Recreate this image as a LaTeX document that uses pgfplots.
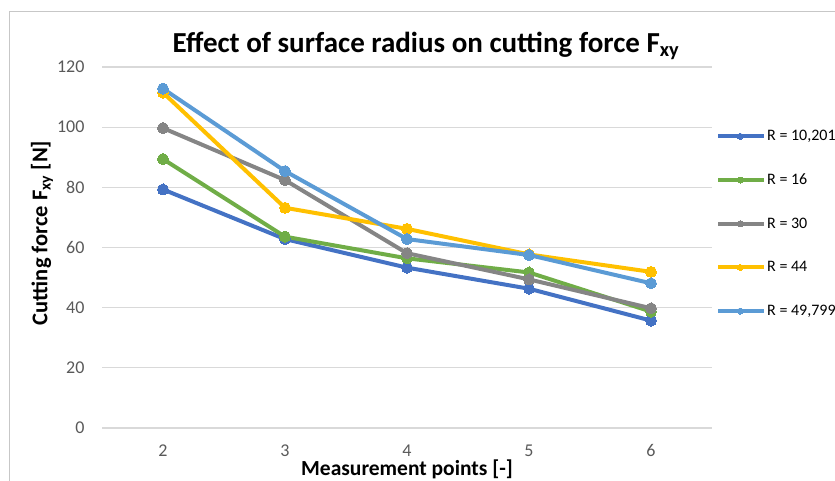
\documentclass[border=0pt]{standalone}
\usepackage{fontspec}
\setmainfont{Carlito}
\usepackage{pgfplots}
\pgfplotsset{compat=1.18}
\definecolor{cA}{HTML}{4472C4}
\definecolor{cB}{HTML}{70AD47}
\definecolor{cC}{HTML}{858585}
\definecolor{cD}{HTML}{FFC000}
\definecolor{cE}{HTML}{5B9BD5}
\definecolor{tickgray}{HTML}{595959}
\definecolor{gridgray}{HTML}{D9D9D9}
\begin{document}
\begin{tikzpicture}
\draw[color=gridgray!80!gray, line width=1bp] (9bp,-20bp) -- (9bp,469bp) -- (900bp,469bp);
\begin{axis}[
  at={(102bp,53bp)}, anchor=south west,
  width=610bp, height=361bp, scale only axis,
  xmin=1.5, xmax=6.5, ymin=0, ymax=120,
  xtick={2,3,4,5,6}, ytick={0,20,...,120},
  axis line style={draw=none},
  major tick length=0pt,
  ymajorgrids, grid style={color=gridgray, line width=1.3bp},
  /pgf/number format/assume math mode=true,
  tick label style={font=\fontsize{18bp}{20bp}\selectfont, color=tickgray},
  yticklabel style={anchor=east, xshift=-14bp},
  xticklabel style={anchor=north, yshift=-13bp},
  clip=false,
  legend style={at={(1.0066,0.832)}, anchor=north west, draw=none, fill=none,
    inner sep=0pt, row sep=26.7bp,
    font=\fontsize{16bp}{18bp}\selectfont,
    nodes={inner sep=1bp, text height=12bp, text depth=3bp}},
  legend cell align=left,
  legend image code/.code={\draw[mark repeat=2,mark phase=2,mark size=3bp] plot coordinates {(0bp,0bp) (22bp,0bp) (46bp,0bp)};},
]
\addplot[color=cA, line width=4bp, mark=*, mark size=5.5bp, mark options={fill=cA, line width=0pt}] coordinates {(2,79.3) (3,62.8) (4,53.3) (5,46.3) (6,35.7)};
\addlegendentry{R = 10,201}
\addplot[color=cB, line width=4bp, mark=*, mark size=5.5bp, mark options={fill=cB, line width=0pt}] coordinates {(2,89.4) (3,63.6) (4,56.4) (5,51.7) (6,38.7)};
\addlegendentry{R = 16}
\addplot[color=cC, line width=4bp, mark=*, mark size=5.5bp, mark options={fill=cC, line width=0pt}] coordinates {(2,99.7) (3,82.4) (4,58.1) (5,49.4) (6,39.8)};
\addlegendentry{R = 30}
\addplot[color=cD, line width=4bp, mark=*, mark size=5.5bp, mark options={fill=cD, line width=0pt}] coordinates {(2,111.5) (3,73.2) (4,66.2) (5,57.7) (6,51.9)};
\addlegendentry{R = 44}
\addplot[color=cE, line width=4bp, mark=*, mark size=5.5bp, mark options={fill=cE, line width=0pt}] coordinates {(2,112.8) (3,85.4) (4,62.8) (5,57.5) (6,48.1)};
\addlegendentry{R = 49,799}
\end{axis}
\node[font=\bfseries\fontsize{29bp}{32bp}\selectfont, anchor=base] at (426bp,428bp) {Effect of surface radius on cutting force F\textsubscript{xy}};
\node[font=\bfseries\fontsize{22.5bp}{26bp}\selectfont, rotate=90, anchor=center] at (42bp,248bp) {Cutting force F\textsubscript{xy} [N]};
\node[font=\bfseries\fontsize{21.5bp}{24bp}\selectfont, anchor=base] at (407bp,6bp) {Measurement points [-]};
\pgfresetboundingbox
\useasboundingbox (0,0) rectangle (835bp,481bp);
\end{tikzpicture}
\end{document}
